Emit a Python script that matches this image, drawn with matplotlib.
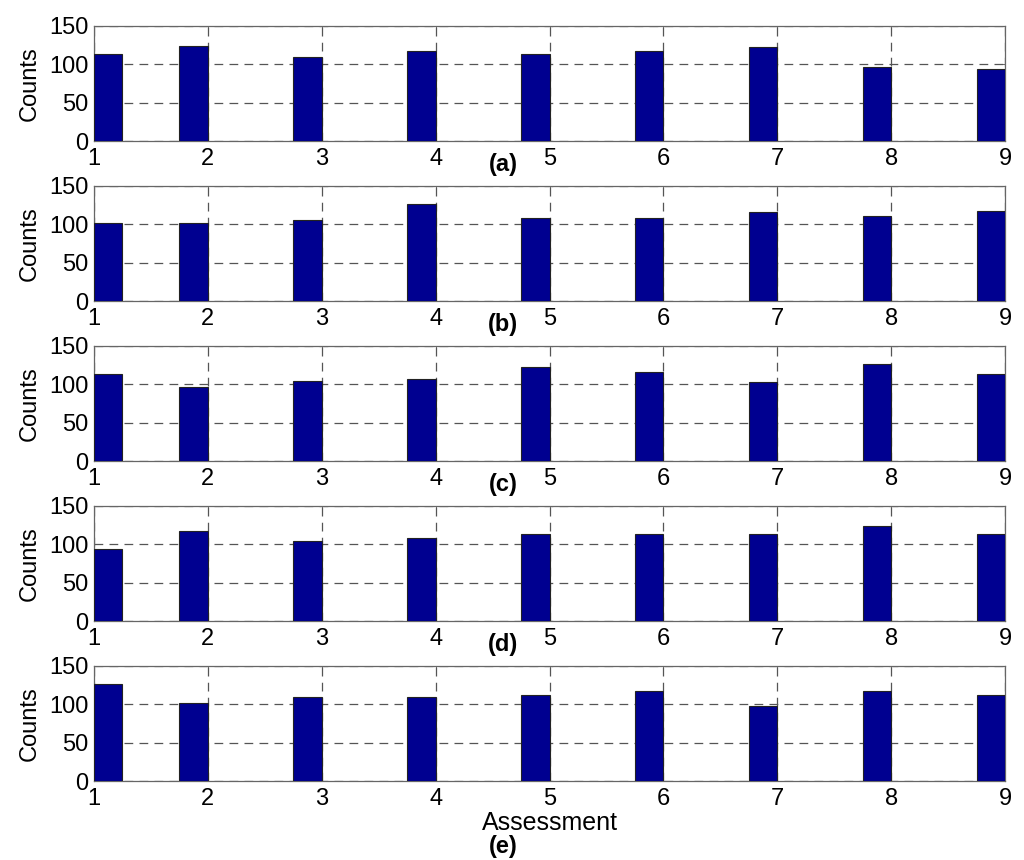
import numpy as np
import matplotlib
matplotlib.use('Agg')
import matplotlib.pyplot as plt

# assessment categories (x axis)
assessment = [1, 2, 3, 4, 5, 6, 7, 8, 9]

# counts for each panel
counts_a = [113, 124, 109, 118, 113, 117, 122, 96, 94]
counts_b = [102, 102, 106, 127, 108, 108, 116, 111, 118]
counts_c = [113, 96, 104, 107, 123, 116, 103, 126, 114]
counts_d = [94, 118, 104, 108, 114, 113, 113, 124, 114]
counts_e = [126, 102, 109, 110, 112, 118, 98, 117, 112]

panel_labels = ['(a)', '(b)', '(c)', '(d)', '(e)']
yticks = [0, 50, 100, 150]


def main():
    plt.rcParams['font.family'] = ['Liberation Sans', 'DejaVu Sans']
    W, H = 1024., 860.
    fig = plt.figure(figsize=(W / 100, H / 100), dpi=100)

    # pixel geometry of each panel (top, bottom)
    tops = [26, 186, 346, 506, 666]
    ax_h = 115.
    left, right = 94., 1005.

    all_counts = [counts_a, counts_b, counts_c, counts_d, counts_e]
    barw = 0.25
    for i, counts in enumerate(all_counts):
        ax = fig.add_axes([left / W, 1 - (tops[i] + ax_h) / H,
                           (right - left) / W, ax_h / H])
        x = np.array(assessment, dtype=float)
        # bars end at the integer, except the first one which starts there
        lefts = x - barw
        lefts[0] = x[0]
        ax.bar(lefts, counts, width=barw, align='edge',
               color='#000090', edgecolor='#222222', linewidth=0.8, zorder=3)
        ax.set_xlim(1, 9)
        ax.set_ylim(0, 150)
        ax.set_xticks(assessment)
        ax.set_yticks(yticks)
        ax.grid(True, linestyle=(0, (7, 5)), color='#555555', linewidth=0.9, zorder=0)
        ax.set_axisbelow(True)
        ax.tick_params(direction='in', length=4, width=0.6, labelsize=17,
                       top=True, right=True, colors='#555555',
                       labelcolor='black')
        ax.tick_params(axis='x', pad=5)
        ax.tick_params(axis='y', pad=4)
        for sp in ax.spines.values():
            sp.set_color('#666666')
            sp.set_linewidth(0.9)
        ax.set_ylabel('Counts', fontsize=17, labelpad=6)
        if i == 4:
            ax.set_xlabel('Assessment', fontsize=18, labelpad=1)
            ly = 847
        else:
            ly = tops[i] + ax_h + 24
        fig.text(503 / W, 1 - ly / H, panel_labels[i], fontsize=17,
                 fontweight='bold', ha='center', va='center')

    plt.savefig('out.png', dpi=100)


if (__name__ == "__main__"):
    main()
